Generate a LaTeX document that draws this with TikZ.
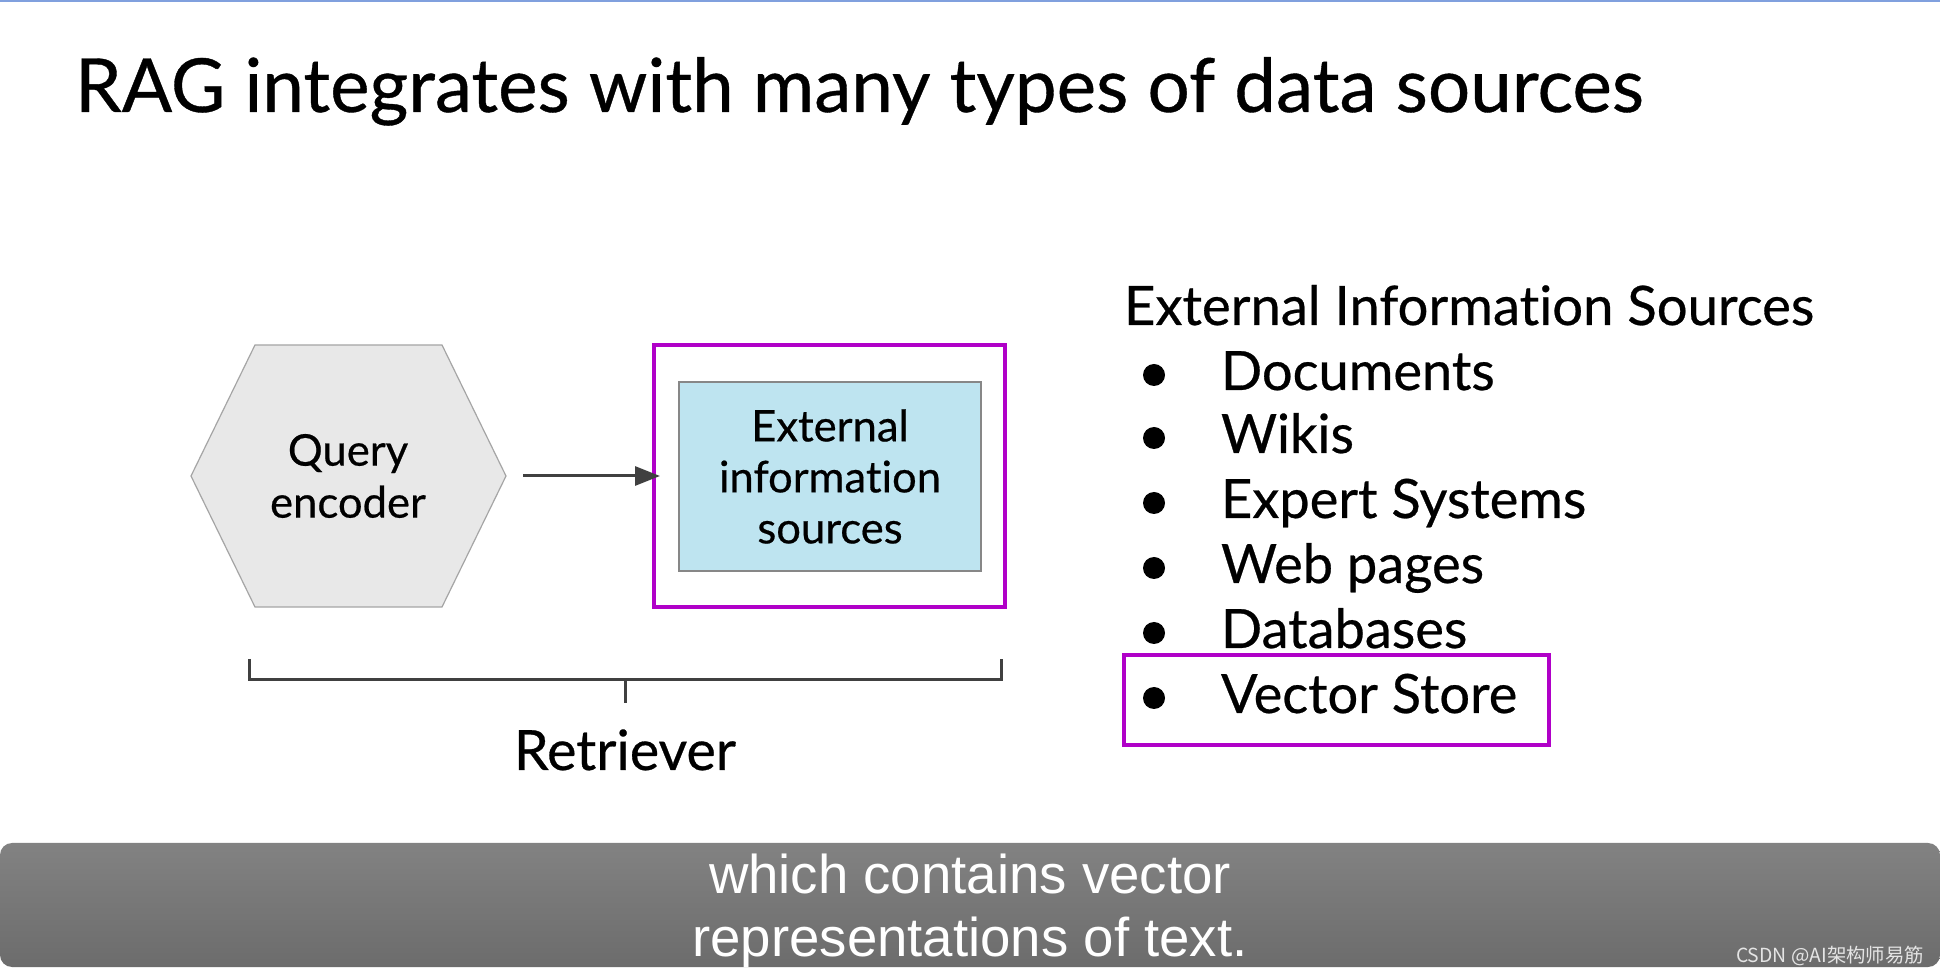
\documentclass[tikz,border=0pt]{standalone}
\usepackage{fontspec}
\setmainfont{Lato}[FakeBold=0.5,Ligatures=NoCommon]
\newfontfamily\subfont{Liberation Sans}
\newfontfamily\cjkfont{Noto Sans CJK SC}
\usetikzlibrary{arrows.meta}
\definecolor{topblue}{RGB}{128,160,222}
\definecolor{mag}{RGB}{176,0,200}
\definecolor{hexfill}{RGB}{232,232,232}
\definecolor{hexline}{RGB}{165,165,165}
\definecolor{boxfill}{RGB}{190,228,240}
\definecolor{boxline}{RGB}{135,135,135}
\definecolor{dark}{RGB}{64,64,64}
\definecolor{bartop}{RGB}{130,130,130}
\definecolor{barbot}{RGB}{108,108,108}
\definecolor{wm}{RGB}{228,228,228}
\tikzset{
  hl/.style={draw=mag, line width=1.75pt},
  darkline/.style={draw=dark, line width=1.5pt},
  plain/.style={inner sep=0pt, outer sep=0pt},
  itemtext/.style={plain, anchor=base west, font=\fontsize{27.1}{30}\selectfont},
  bulletdot/.style={circle, fill=black, inner sep=0pt, minimum size=11pt},
}
\begin{document}
\begin{tikzpicture}[x=0.5pt,y=-0.5pt]
\useasboundingbox (0,0) rectangle (1940,972);
\fill[white] (0,0) rectangle (1940,972);
\fill[topblue] (0,0) rectangle (1940,2.5);

% title
\node[plain, anchor=base west, font=\fontsize{37.3}{40}\selectfont] (title) at (75,112) {RAG integrates with many types of data sources};

% hexagon
\coordinate (hexL) at (191,476);
\coordinate (hexR) at (506,476);
\filldraw[fill=hexfill, draw=hexline, line width=0.6pt] (hexL) -- (255,345) -- (442,345) -- (hexR) -- (442,607) -- (255,607) -- cycle;
\node[plain, align=center, font=\fontsize{21.8}{26}\selectfont] (qe) at (348,476) {Query\\encoder};

% external info box
\node[hl, minimum width=175.5pt, minimum height=131pt, plain] (outer) at (829.5,476) {};
\node[draw=boxline, fill=boxfill, line width=0.6pt, minimum width=151pt, minimum height=94.5pt, align=center, font=\fontsize{21.8}{25.5}\selectfont, inner sep=0pt] (inner) at (830,476.5) {External\\information\\sources};

\coordinate (arrstart) at (523,476);
\draw[darkline, -{Triangle[length=12.5pt,width=9.5pt]}] (arrstart) -- ([xshift=3pt]outer.west);

% retriever bracket
\coordinate (bl) at (249,659);
\coordinate (blb) at (249,680);
\coordinate (brb) at (1001,680);
\coordinate (br) at (1001,659);
\coordinate (bm) at (625,680);
\coordinate (bt) at (625,703);
\draw[darkline] (bl) -- (blb) -- (brb) -- (br);
\draw[darkline] (bm) -- (bt);
\node[plain, anchor=base, font=\fontsize{27.8}{30}\selectfont] (retr) at (625,770) {Retriever};

% right list
\node[plain, anchor=base west, font=\fontsize{27.2}{30}\selectfont] (head) at (1124,325) {External Information Sources};
\node[itemtext] (i1) at (1221,390) {Documents};
\node[itemtext] (i2) at (1221,453) {Wikis};
\node[itemtext] (i3) at (1221,518) {Expert Systems};
\node[itemtext] (i4) at (1221,583) {Web pages};
\node[itemtext] (i5) at (1221,648) {Databases};
\node[itemtext] (i6) at (1221,713) {Vector Store};
\foreach \y in {375,438,503,568,633,698} \node[bulletdot] at (1154,\y) {};
\draw[hl] (1124,655) rectangle (1549,745);

% subtitle bar
\shade[top color=bartop, bottom color=barbot, rounded corners=6pt] (0,843) rectangle (1940,967);
\node[plain, anchor=base, text=white, font=\subfont\fontsize{27.3}{30}\selectfont] (sub1) at (970,893) {which contains vector};
\node[plain, anchor=base, text=white, font=\subfont\fontsize{27.3}{30}\selectfont] (sub2) at (970,957) {representations of text.};
\node[plain, anchor=base east, text=wm, font=\cjkfont\fontsize{9.7}{10}\selectfont] (wmk) at (1924,962) {CSDN @AI架构师易筋};
\end{tikzpicture}
\end{document}
